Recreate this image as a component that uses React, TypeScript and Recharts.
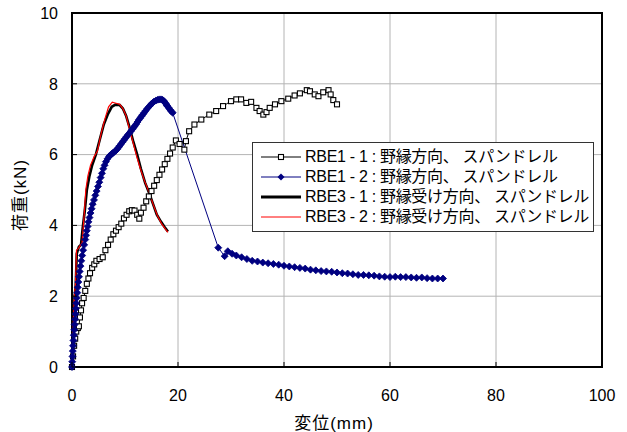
import { LineChart, Line, XAxis, YAxis, CartesianGrid, ReferenceArea, Label } from "recharts";

// 変位 (mm) / 荷重 (kN)
const xTicks = [0, 20, 40, 60, 80, 100];
const yTicks = [0, 2, 4, 6, 8, 10];

const names = [
  "RBE1 - 1 : 野縁方向、 スパンドレル",
  "RBE1 - 2 : 野縁方向、 スパンドレル",
  "RBE3 - 1 : 野縁受け方向、 スパンドレル",
  "RBE3 - 2 : 野縁受け方向、 スパンドレル",
];

const rbe11: [number, number][] = [
  [0, 0], [0.2, 0.3], [0.4, 0.6], [0.6, 0.8], [0.8, 1.0], [1.1, 1.1], [1.3, 1.15], [1.5, 1.4],
  [1.7, 1.6], [1.9, 1.8], [2.2, 1.95], [2.5, 2.15], [2.8, 2.35], [3.1, 2.5], [3.4, 2.65],
  [3.8, 2.8], [4.2, 2.9], [4.6, 3.0], [5.2, 3.05], [5.8, 3.1], [6.3, 3.3], [6.8, 3.45],
  [7.3, 3.6], [7.8, 3.75], [8.3, 3.85], [8.8, 3.95], [9.3, 4.05], [9.8, 4.2], [10.3, 4.3],
  [10.8, 4.4], [11.3, 4.43], [11.8, 4.42], [12.3, 4.3], [12.7, 4.19], [13.0, 4.36],
  [13.5, 4.5], [14.0, 4.68], [14.5, 4.82], [15.0, 4.97], [15.5, 5.12], [16.0, 5.28],
  [16.5, 5.43], [17.0, 5.58], [17.5, 5.73], [18.0, 5.88], [18.5, 6.03], [19.0, 6.2],
  [19.6, 6.4], [20.3, 6.3], [21.2, 6.14], [21.5, 6.38], [22.1, 6.66], [23.1, 6.85],
  [24.4, 6.99], [25.9, 7.13], [27.2, 7.23], [28.5, 7.37], [30.0, 7.51], [31.0, 7.56],
  [31.9, 7.56], [32.9, 7.46], [33.8, 7.49], [34.8, 7.32], [35.4, 7.23], [36.1, 7.13],
  [36.7, 7.2], [37.3, 7.32], [38.3, 7.42], [39.5, 7.51], [40.8, 7.58], [42.0, 7.67],
  [43.0, 7.73], [44.3, 7.82], [44.9, 7.79], [45.8, 7.7], [46.5, 7.65], [47.4, 7.76],
  [48.4, 7.82], [48.8, 7.7], [49.3, 7.54], [50.0, 7.42],
];

const rbe12: [number, number][] = [
  [0, 0], [0.05, 0.15], [0.1, 0.3], [0.15, 0.45], [0.2, 0.6], [0.28, 0.75], [0.35, 0.9],
  [0.43, 1.05], [0.5, 1.2], [0.58, 1.35], [0.65, 1.5], [0.73, 1.65], [0.8, 1.8], [0.9, 1.95],
  [1.0, 2.1], [1.1, 2.25], [1.2, 2.4], [1.32, 2.55], [1.45, 2.7], [1.6, 2.85], [1.75, 3.0],
  [1.92, 3.15], [2.1, 3.3], [2.3, 3.45], [2.5, 3.6], [2.65, 3.72], [2.8, 3.85], [2.95, 3.97],
  [3.1, 4.1], [3.3, 4.22], [3.5, 4.35], [3.7, 4.47], [3.9, 4.6], [4.15, 4.72], [4.4, 4.85],
  [4.65, 4.97], [4.9, 5.1], [5.15, 5.22], [5.4, 5.35], [5.65, 5.47], [5.9, 5.6], [6.15, 5.7],
  [6.4, 5.8], [6.7, 5.88], [7.0, 5.95], [7.25, 5.98], [7.5, 6.02], [7.75, 6.05], [8.0, 6.08],
  [8.25, 6.11], [8.5, 6.15], [8.75, 6.2], [9.0, 6.25], [9.25, 6.3], [9.5, 6.35], [9.75, 6.4],
  [10.0, 6.45], [10.25, 6.5], [10.5, 6.55], [10.8, 6.6], [11.1, 6.66], [11.35, 6.71],
  [11.6, 6.76], [11.85, 6.81], [12.1, 6.86], [12.35, 6.92], [12.6, 6.98], [12.85, 7.03],
  [13.1, 7.08], [13.35, 7.13], [13.6, 7.18], [13.9, 7.24], [14.2, 7.3], [14.55, 7.36],
  [14.9, 7.42], [15.2, 7.46], [15.5, 7.5], [15.85, 7.53], [16.2, 7.55], [16.5, 7.56],
  [16.8, 7.56], [17.05, 7.55], [17.3, 7.52], [17.5, 7.48], [17.7, 7.44], [17.85, 7.4],
  [18.0, 7.37], [18.25, 7.32], [18.5, 7.27], [18.75, 7.22], [19.0, 7.18],
  [27.6, 3.37], [28.8, 3.13], [29.4, 3.27], [30.2, 3.2], [31, 3.15], [32, 3.1], [33, 3.05],
  [34, 3.0], [35, 2.98], [36, 2.95], [37, 2.93], [38, 2.91], [39, 2.89], [40, 2.86],
  [41, 2.84], [42, 2.82], [43, 2.8], [44, 2.78], [45, 2.75], [46, 2.73], [47, 2.71],
  [48, 2.7], [49, 2.69], [50, 2.67], [51, 2.65], [52, 2.64], [53, 2.62], [54, 2.6],
  [55, 2.6], [56, 2.59], [57, 2.58], [58, 2.56], [59, 2.55], [60, 2.54], [61, 2.55],
  [62, 2.54], [63, 2.54], [64, 2.53], [65, 2.52], [66, 2.53], [67, 2.51], [68, 2.5],
  [69, 2.5], [70, 2.5],
];

const rbe31: [number, number][] = [
  [0, 0], [0.2, 0.6], [0.35, 1.3], [0.5, 2.0], [0.7, 2.3], [0.9, 3.2], [1.3, 3.4],
  [1.7, 3.45], [2.0, 3.9], [2.4, 4.4], [2.8, 5.0], [3.3, 5.4], [3.8, 5.7], [4.5, 6.0],
  [5.2, 6.4], [6.0, 6.85], [6.8, 7.15], [7.5, 7.35], [8.2, 7.41], [9.0, 7.4], [9.6, 7.3],
  [10.2, 7.1], [10.8, 6.8], [11.5, 6.4], [12.3, 6.0], [13.0, 5.6], [13.8, 5.2],
  [14.6, 4.9], [15.3, 4.6], [16.0, 4.3], [16.8, 4.1], [17.5, 3.95], [18.1, 3.83],
];

const rbe32: [number, number][] = [
  [0, 0], [0.15, 0.8], [0.3, 1.5], [0.5, 2.1], [0.66, 2.33], [0.85, 3.3], [1.2, 3.35],
  [1.6, 3.45], [1.9, 3.5], [2.3, 4.3], [2.6, 5.0], [3.0, 5.4], [3.5, 5.7], [4.2, 5.95],
  [4.8, 6.1], [5.5, 6.6], [6.2, 7.0], [6.9, 7.35], [7.6, 7.48], [8.3, 7.45], [9.0, 7.42],
  [9.6, 7.3], [10.2, 7.1], [10.8, 6.75], [11.5, 6.35], [12.2, 5.95], [12.9, 5.6],
  [13.7, 5.25], [14.5, 4.95], [15.3, 4.6], [16.1, 4.28], [16.9, 4.05], [17.6, 3.9], [18.1, 3.8],
];

const rows = (pts: [number, number][]) => pts.map(([x, y]) => ({ x, y }));

const FONT = '"Liberation Sans", Arial, "Noto Sans CJK JP", sans-serif';
const PLOT_L = 72;
const PLOT_B = 367;

const Square = (props: any) => {
  const { cx, cy, index } = props;
  return <rect key={`sq-${index}`} x={cx - 2.5} y={cy - 2.5} width={5} height={5} fill="#fff" stroke="#000" strokeWidth={1.1} />;
};

const Diamond = (props: any) => {
  const { cx, cy, index } = props;
  return (
    <polygon
      key={`dm-${index}`}
      points={`${cx},${cy - 3.5} ${cx + 3.5},${cy} ${cx},${cy + 3.5} ${cx - 3.5},${cy}`}
      fill="#000080"
      stroke="#000080"
      strokeWidth={0.8}
    />
  );
};

const YTick = (props: any) => {
  const { y, payload } = props;
  return (
    <g>
      <line x1={PLOT_L} x2={PLOT_L + 5} y1={y} y2={y} stroke="#000" />
      <text x={58} y={y} dy="0.36em" textAnchor="end" fontSize={16} fill="#000" fontFamily={FONT}>
        {payload.value}
      </text>
    </g>
  );
};

const XTick = (props: any) => {
  const { x, payload } = props;
  return (
    <g>
      <line x1={x} x2={x} y1={PLOT_B} y2={PLOT_B - 5} stroke="#000" />
      <text x={x} y={395} dy="0.36em" textAnchor="middle" fontSize={16} fill="#000" fontFamily={FONT}>
        {payload.value}
      </text>
    </g>
  );
};

const legendSamples = [
  { color: "#000", width: 1, mark: "square" },
  { color: "#000080", width: 1, mark: "diamond" },
  { color: "#000", width: 3, mark: "" },
  { color: "#ff0000", width: 1, mark: "" },
];

const LegendBox = () => (
  <div
    style={{
      position: "absolute",
      left: 252,
      top: 142,
      width: 342,
      height: 90,
      border: "1px solid #333",
      background: "#fff",
      boxSizing: "border-box",
      padding: "4px 0 0 8px",
      fontFamily: FONT,
      fontSize: 16,
      color: "#000",
    }}
  >
    {names.map((n, i) => {
      const s = legendSamples[i];
      return (
        <div key={n} style={{ display: "flex", alignItems: "center", height: 20 }}>
          <svg width={42} height={20} style={{ flex: "none" }}>
            <line x1={0} x2={40} y1={10} y2={10} stroke={s.color} strokeWidth={s.width} />
            {s.mark === "square" && <rect x={17.5} y={7.5} width={5} height={5} fill="#fff" stroke="#000" strokeWidth={1.1} />}
            {s.mark === "diamond" && <polygon points="20,6.5 23.5,10 20,13.5 16.5,10" fill="#000080" />}
          </svg>
          <span style={{ marginLeft: 2, whiteSpace: "nowrap", lineHeight: "20px", letterSpacing: -0.3 }}>{n}</span>
        </div>
      );
    })}
  </div>
);

export default function App() {
  return (
    <div style={{ position: "fixed", left: 0, top: 0, width: 627, height: 432, background: "#fff" }}>
      <LineChart width={627} height={432} margin={{ top: 13, right: 25, bottom: 0, left: 0 }}>
        <CartesianGrid stroke="#b4b4b4" strokeWidth={1} />
        <XAxis
          dataKey="x"
          type="number"
          domain={[0, 100]}
          ticks={xTicks}
          height={65}
          axisLine={false}
          tickLine={false}
          tick={<XTick />}
          interval={0}
        >
          <Label
            content={() => (
              <text x={334} y={423} dy="0.36em" textAnchor="middle" fontSize={17} letterSpacing={1} fill="#000" fontFamily={FONT}>
                変位(mm)
              </text>
            )}
          />
        </XAxis>
        <YAxis
          dataKey="y"
          type="number"
          domain={[0, 10]}
          ticks={yTicks}
          width={72}
          axisLine={false}
          tickLine={false}
          tick={<YTick />}
          interval={0}
        >
          <Label
            content={() => (
              <text
                transform="translate(20,195) rotate(-90)"
                dy="0.36em"
                textAnchor="middle"
                fontSize={17}
                letterSpacing={1}
                fill="#000"
                fontFamily={FONT}
              >
                荷重(kN)
              </text>
            )}
          />
        </YAxis>
        <ReferenceArea x1={0} x2={100} y1={0} y2={10} fill="none" stroke="#000" strokeWidth={2} fillOpacity={0} />
        <Line data={rows(rbe11)} dataKey="y" name={names[0]} stroke="#000" strokeWidth={1} dot={Square} isAnimationActive={false} />
        <Line data={rows(rbe12)} dataKey="y" name={names[1]} stroke="#000080" strokeWidth={1} dot={Diamond} isAnimationActive={false} />
        <Line data={rows(rbe31)} dataKey="y" name={names[2]} stroke="#000" strokeWidth={2.6} dot={false} isAnimationActive={false} />
        <Line data={rows(rbe32)} dataKey="y" name={names[3]} stroke="#ff0000" strokeWidth={1.2} dot={false} isAnimationActive={false} />
      </LineChart>
      <LegendBox />
    </div>
  );
}
